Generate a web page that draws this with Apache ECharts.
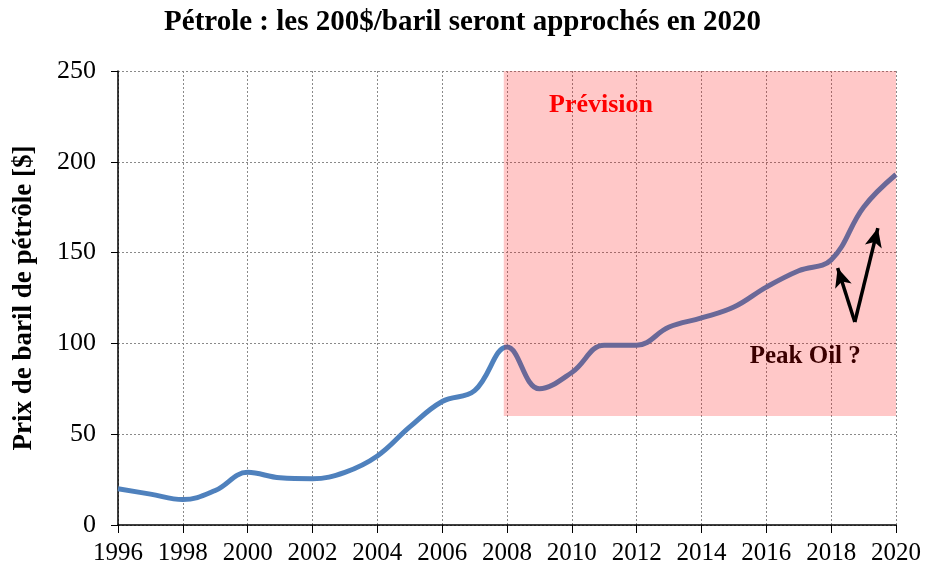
<!DOCTYPE html>
<html><head><meta charset="utf-8">
<script src="https://cdn.jsdelivr.net/npm/echarts@6/dist/echarts.min.js"></script>
<style>html,body{margin:0;padding:0;background:#fff}#c{width:925px;height:569px}</style>
</head><body><div id="c"></div>
<script>
var years = [1996,1997,1998,1999,2000,2001,2002,2003,2004,2005,2006,2007,2008,2009,2010,2011,2012,2013,2014,2015,2016,2017,2018,2019,2020];
var prices = [20,17,14,19,29,26,25.5,29,38,54,68,74,98,75,84,99,99,109,114,120,131,140,146,175,193];
var xTicks = [1996,2020,2];
var yTicks = [0,250,50];
var forecastStart = 2007.9, forecastEnd = 2020, forecastLow = 60, forecastHigh = 250;
var arrowBase = [2018.73, 111.8];
var arrowTips = [[2018.2, 141.5],[2019.44, 163.5]];
var labelPrev = {text:'Prévision', pos:[2010.9, 231]};
var labelPeak = {text:'Peak Oil ?', pos:[2017.2, 93]};

var serif = '"Liberation Serif","Times New Roman",serif';
var chart = echarts.init(document.getElementById('c'));
var data = years.map(function(y,i){return [y, prices[i]];});
var split = (forecastStart - years[0]) / (years[years.length-1] - years[0]);
chart.setOption({
  animation:false,
  title:{text:'Pétrole : les 200$/baril seront approchés en 2020', left:'center', top:3,
    textStyle:{fontFamily:serif, fontWeight:'bold', fontSize:29, color:'#000'}},
  grid:{left:118, right:29, top:71, bottom:44, outerBoundsMode:'none', containLabel:false},
  xAxis:{type:'value', min:xTicks[0], max:xTicks[1], interval:xTicks[2],
    axisLine:{lineStyle:{color:'#000', width:1.5}},
    axisTick:{show:true, length:8, lineStyle:{color:'#000'}},
    axisLabel:{fontFamily:serif, fontSize:25, color:'#000', margin:16, formatter:function(v){return String(v);}},
    splitLine:{show:true, lineStyle:{color:'#8a8a8a', type:[2,2], width:1}}},
  yAxis:{type:'value', min:yTicks[0], max:yTicks[1], interval:yTicks[2],
    name:'Prix de baril de pétrôle [$]', nameLocation:'middle', nameGap:80,
    nameTextStyle:{fontFamily:serif, fontWeight:'bold', fontSize:27, color:'#000'},
    axisLine:{show:true, lineStyle:{color:'#000', width:1.5}},
    axisTick:{show:true, length:7, lineStyle:{color:'#000'}},
    axisLabel:{fontFamily:serif, fontSize:26, color:'#000', margin:22},
    splitLine:{show:true, lineStyle:{color:'#8a8a8a', type:[2,2], width:1}}},
  series:[
    {type:'line', data:data, smooth:0.4, symbol:'none', z:3,
      lineStyle:{width:5, color:{type:'linear', x:0, y:0, x2:1, y2:0, colorStops:[
        {offset:0, color:'#4F81BD'},{offset:split, color:'#4F81BD'},
        {offset:split, color:'#6A6898'},{offset:1, color:'#6A6898'}]}},
      markArea:{silent:true, itemStyle:{color:'rgba(255,0,0,0.215)', opacity:1},
        data:[[{coord:[forecastStart, forecastLow]},{coord:[forecastEnd, forecastHigh]}]]}
    },
    {type:'scatter', data:[labelPrev.pos], symbolSize:0, z:5, itemStyle:{opacity:1},
      label:{show:true, position:'inside', formatter:labelPrev.text, fontFamily:serif, fontWeight:'bold', fontSize:26, color:'#FF0000'}
    },
    {type:'scatter', data:[labelPeak.pos], symbolSize:0, z:5, itemStyle:{opacity:1},
      label:{show:true, position:'inside', formatter:labelPeak.text, fontFamily:serif, fontWeight:'bold', fontSize:25, color:'#3B0000'},
      markLine:{silent:true, symbol:['none','arrow'], symbolSize:[13,19],
        lineStyle:{color:'#000', width:3.5, type:'solid', opacity:1}, label:{show:false},
        data:arrowTips.map(function(t){return [{coord:arrowBase},{coord:t}];})}
    }
  ]
});
</script></body></html>
